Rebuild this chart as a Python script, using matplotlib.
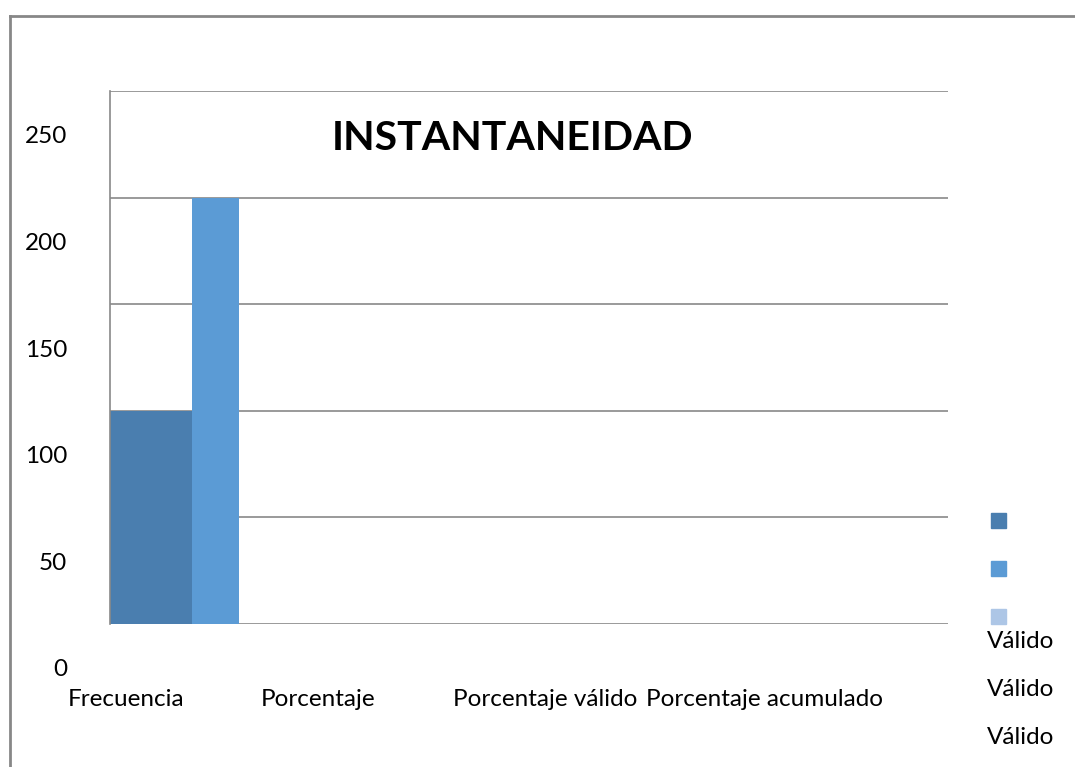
import matplotlib.pyplot as plt
import matplotlib.transforms as mtransforms
from matplotlib.patches import Rectangle

# data (units of the gridlines)
categorias = ['Frecuencia', 'Porcentaje', 'Porcentaje válido', 'Porcentaje acumulado']
serie_1 = [100, 0, 0, 0]
serie_2 = [200, 0, 0, 0]
serie_3 = [0, 0, 0, 0]
series = [serie_1, serie_2, serie_3]
nombres = ['Válido', 'Válido', 'Válido']
colores = ['#4a7eaf', '#5b9bd5', '#adc6e6']
ticks_y = [0, 50, 100, 150, 200, 250]
titulo = 'INSTANTANEIDAD'

W, H = 1075, 767
fig = plt.figure(figsize=(W / 100, H / 100), dpi=100)
plt.rcParams['font.family'] = ['Lato', 'DejaVu Sans']

ax = fig.add_axes([110 / W, (H - 624) / H, 838 / W, 533 / H])
ax.set_xlim(0, len(categorias))
ax.set_ylim(0, 250)

# bar widths as fractions of a category slot
anchos = [0.39, 0.225, 0.225]
for i, cat in enumerate(categorias):
    x0 = i
    for s, vals in enumerate(series):
        ax.bar(x0, vals[i], width=anchos[s], align='edge', color=colores[s], zorder=2)
        x0 += anchos[s]

ax.set_yticks(ticks_y)
for t in ticks_y:
    ax.axhline(t, color='#898989', lw=1.2, zorder=1)
ax.tick_params(axis='y', length=0, labelsize=17.5, pad=31)
ax.set_yticklabels([str(t) for t in ticks_y])
off = mtransforms.ScaledTranslation(0, -0.44, fig.dpi_scale_trans)
for lab in ax.get_yticklabels():
    lab.set_transform(lab.get_transform() + off)
ax.set_xticks([])
for sp in ['top', 'right', 'bottom']:
    ax.spines[sp].set_visible(False)
ax.spines['left'].set_color('#898989')
ax.spines['left'].set_linewidth(1.2)

ax.text(0.48, 0.91, titulo, transform=ax.transAxes, ha='center', va='center',
        fontsize=29.5, fontweight='bold')

# category labels, left-aligned under the plot
for i, cat in enumerate(categorias):
    fig.text((68 + i * 192.5) / W, 1 - 700 / H, cat, ha='left', va='center', fontsize=17.5)

# legend: squares then labels lower down
for s, nombre in enumerate(nombres):
    fig.patches.append(Rectangle((991 / W, 1 - (528 + s * 48) / H), 15 / W, 15 / H,
                                 transform=fig.transFigure, color=colores[s]))
    fig.text(987 / W, 1 - (641 + s * 48.5) / H, nombre, ha='left', va='center', fontsize=17.5)

# outer frame (left and top edges visible)
fig.add_artist(plt.Line2D([10 / W, 10 / W], [0, 1 - 16 / H], color='#878787', lw=2))
fig.add_artist(plt.Line2D([10 / W, 1], [1 - 16 / H, 1 - 16 / H], color='#878787', lw=2))

fig.savefig('out.png', dpi=100)
